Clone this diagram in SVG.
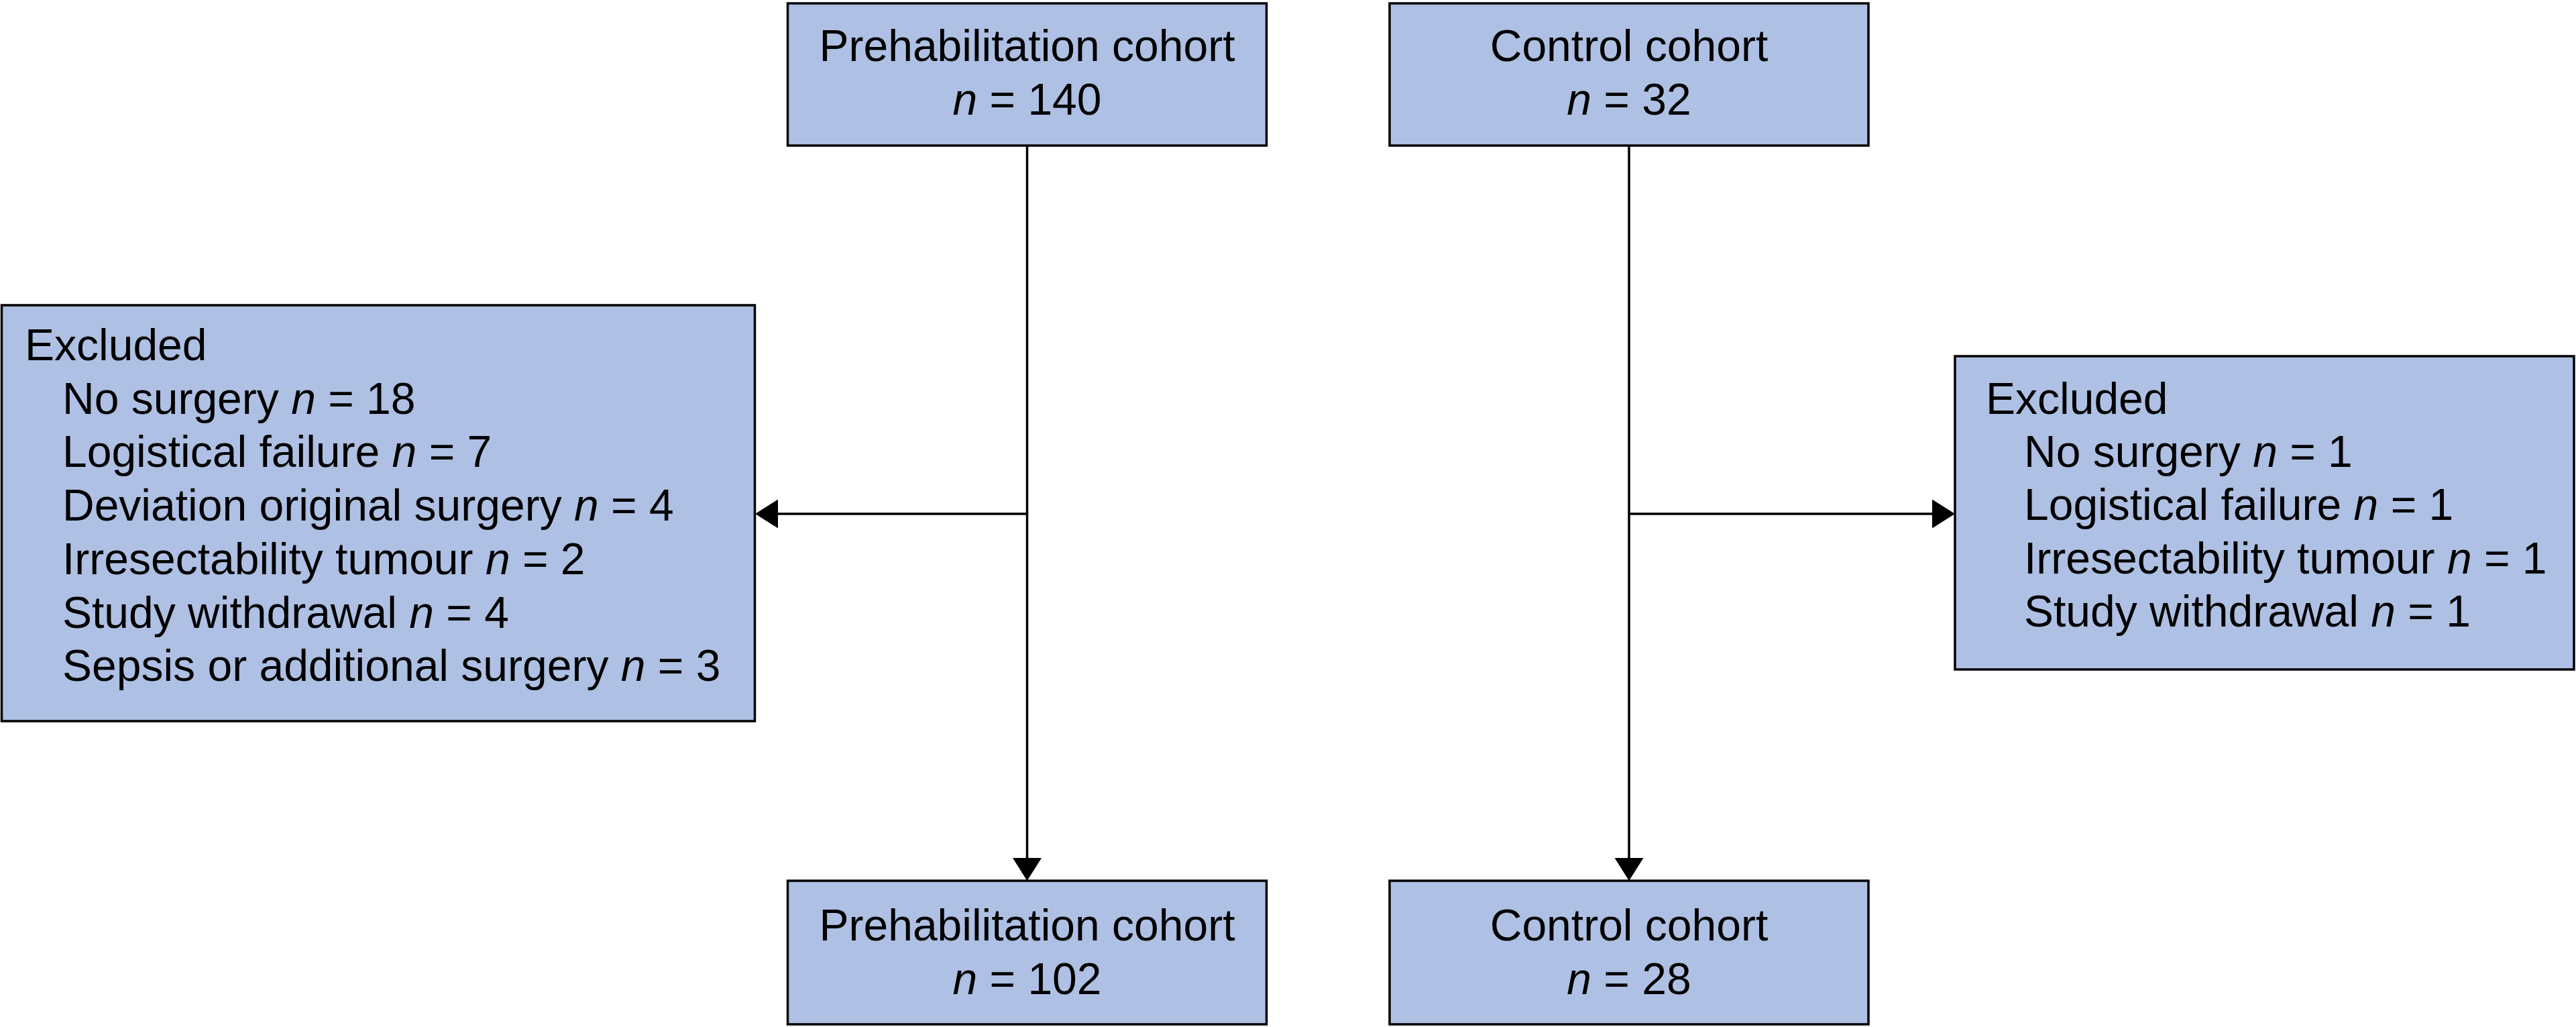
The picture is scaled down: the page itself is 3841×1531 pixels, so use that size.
<svg xmlns="http://www.w3.org/2000/svg" width="3841" height="1531" viewBox="0 0 3841 1531">
<style>
  .box { fill: #aec0e3; stroke: #000; stroke-width: 3.5; }
  .t { font-family: "Liberation Sans", Arial, sans-serif; font-size: 66px; fill: #000; }
  .c { text-anchor: middle; }
  .i { font-style: italic; }
  .conn { fill: none; stroke: #000; stroke-width: 3.5; }
</style>
<defs>
  <marker id="arr" viewBox="0 0 34 43" refX="4" refY="21.5" markerWidth="34" markerHeight="43" markerUnits="userSpaceOnUse" orient="auto">
    <path d="M0,0 L34,21.5 L0,43 Z" fill="#000"/>
  </marker>
</defs>
<g id="connectors">
  <path class="conn" d="M1531.5 217 V1283" marker-end="url(#arr)"/>
  <path class="conn" d="M1531.5 766 H1156" marker-end="url(#arr)"/>
  <path class="conn" d="M2429 217 V1283" marker-end="url(#arr)"/>
  <path class="conn" d="M2429 766 H2885" marker-end="url(#arr)"/>
</g>
<g id="prehab-top">
  <rect class="box" x="1174.5" y="5" width="714" height="212"/>
  <text class="t c" x="1531.5" y="91">Prehabilitation cohort</text>
  <text class="t c" x="1531.5" y="171"><tspan class="i">n</tspan> = 140</text>
</g>
<g id="control-top">
  <rect class="box" x="2072" y="5" width="714" height="212"/>
  <text class="t c" x="2429" y="91">Control cohort</text>
  <text class="t c" x="2429" y="171"><tspan class="i">n</tspan> = 32</text>
</g>
<g id="excluded-left">
  <rect class="box" x="2.5" y="455" width="1123" height="620"/>
  <text class="t" x="37" y="537">Excluded</text>
  <text class="t" x="93" y="617">No surgery <tspan class="i">n</tspan> = 18</text>
  <text class="t" x="93" y="696">Logistical failure <tspan class="i">n</tspan> = 7</text>
  <text class="t" x="93" y="776">Deviation original surgery <tspan class="i">n</tspan> = 4</text>
  <text class="t" x="93" y="856">Irresectability tumour <tspan class="i">n</tspan> = 2</text>
  <text class="t" x="93" y="936">Study withdrawal <tspan class="i">n</tspan> = 4</text>
  <text class="t" x="93" y="1015">Sepsis or additional surgery <tspan class="i">n</tspan> = 3</text>
</g>
<g id="excluded-right">
  <rect class="box" x="2915" y="531" width="923" height="467"/>
  <text class="t" x="2961" y="617">Excluded</text>
  <text class="t" x="3018" y="696">No surgery <tspan class="i">n</tspan> = 1</text>
  <text class="t" x="3018" y="775">Logistical failure <tspan class="i">n</tspan> = 1</text>
  <text class="t" x="3018" y="855">Irresectability tumour <tspan class="i">n</tspan> = 1</text>
  <text class="t" x="3018" y="934">Study withdrawal <tspan class="i">n</tspan> = 1</text>
</g>
<g id="prehab-bottom">
  <rect class="box" x="1174.5" y="1313" width="714" height="214"/>
  <text class="t c" x="1531.5" y="1402">Prehabilitation cohort</text>
  <text class="t c" x="1531.5" y="1482"><tspan class="i">n</tspan> = 102</text>
</g>
<g id="control-bottom">
  <rect class="box" x="2072" y="1313" width="714" height="214"/>
  <text class="t c" x="2429" y="1402">Control cohort</text>
  <text class="t c" x="2429" y="1482"><tspan class="i">n</tspan> = 28</text>
</g>
</svg>
